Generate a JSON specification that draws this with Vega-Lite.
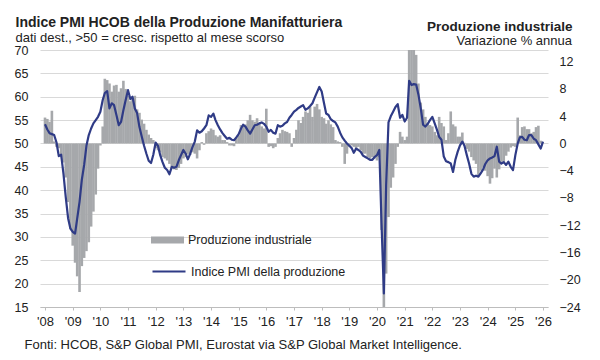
{
  "$schema": "https://vega.github.io/schema/vega-lite/v6.json",
  "width": 508,
  "height": 257,
  "autosize": {"type": "none"},
  "padding": {"left": 40, "top": 50, "right": 52, "bottom": 53},
  "background": "white",
  "config": {
    "font": "Liberation Sans",
    "view": {"stroke": null}
  },
  "title": {
    "text": "Indice PMI HCOB della Produzione Manifatturiera",
    "subtitle": "dati dest., >50 = cresc. rispetto al mese scorso",
    "anchor": "start",
    "frame": "group",
    "dx": -24.5,
    "offset": -26,
    "font": "Liberation Sans",
    "fontSize": 14,
    "fontWeight": "bold",
    "color": "#222222",
    "subtitleFont": "Liberation Sans",
    "subtitleFontSize": 13,
    "subtitleColor": "#222222",
    "subtitlePadding": 2
  },
  "datasets": {
    "pmi": [
      {"d":"2008-01-01","v":54.1},{"d":"2008-02-01","v":53.0},{"d":"2008-03-01","v":52.2},{"d":"2008-04-01","v":52.0},{"d":"2008-05-01","v":51.8},{"d":"2008-06-01","v":50.2},{"d":"2008-07-01","v":47.3},{"d":"2008-08-01","v":47.6},{"d":"2008-09-01","v":43.5},{"d":"2008-10-01","v":38.5},{"d":"2008-11-01","v":34.0},{"d":"2008-12-01","v":31.8},
      {"d":"2009-01-01","v":31.1},{"d":"2009-02-01","v":30.7},{"d":"2009-03-01","v":33.9},{"d":"2009-04-01","v":37.5},{"d":"2009-05-01","v":42.2},{"d":"2009-06-01","v":45.4},{"d":"2009-07-01","v":49.5},{"d":"2009-08-01","v":51.8},{"d":"2009-09-01","v":53.2},{"d":"2009-10-01","v":54.3},{"d":"2009-11-01","v":55.0},{"d":"2009-12-01","v":55.7},
      {"d":"2010-01-01","v":56.8},{"d":"2010-02-01","v":59.3},{"d":"2010-03-01","v":60.8},{"d":"2010-04-01","v":61.2},{"d":"2010-05-01","v":57.5},{"d":"2010-06-01","v":58.6},{"d":"2010-07-01","v":58.2},{"d":"2010-08-01","v":56.1},{"d":"2010-09-01","v":53.9},{"d":"2010-10-01","v":54.6},{"d":"2010-11-01","v":57.1},{"d":"2010-12-01","v":59.3},
      {"d":"2011-01-01","v":61.4},{"d":"2011-02-01","v":59.5},{"d":"2011-03-01","v":60.0},{"d":"2011-04-01","v":57.5},{"d":"2011-05-01","v":56.5},{"d":"2011-06-01","v":53.5},{"d":"2011-07-01","v":51.5},{"d":"2011-08-01","v":49.5},{"d":"2011-09-01","v":47.8},{"d":"2011-10-01","v":46.3},{"d":"2011-11-01","v":45.8},{"d":"2011-12-01","v":47.6},
      {"d":"2012-01-01","v":50.2},{"d":"2012-02-01","v":49.5},{"d":"2012-03-01","v":47.5},{"d":"2012-04-01","v":46.0},{"d":"2012-05-01","v":44.8},{"d":"2012-06-01","v":44.3},{"d":"2012-07-01","v":43.4},{"d":"2012-08-01","v":45.0},{"d":"2012-09-01","v":44.8},{"d":"2012-10-01","v":45.0},{"d":"2012-11-01","v":46.4},{"d":"2012-12-01","v":47.5},
      {"d":"2013-01-01","v":48.6},{"d":"2013-02-01","v":47.8},{"d":"2013-03-01","v":46.6},{"d":"2013-04-01","v":47.8},{"d":"2013-05-01","v":49.2},{"d":"2013-06-01","v":50.4},{"d":"2013-07-01","v":52.8},{"d":"2013-08-01","v":52.3},{"d":"2013-09-01","v":52.6},{"d":"2013-10-01","v":53.2},{"d":"2013-11-01","v":53.9},{"d":"2013-12-01","v":56.0},
      {"d":"2014-01-01","v":55.7},{"d":"2014-02-01","v":56.4},{"d":"2014-03-01","v":55.0},{"d":"2014-04-01","v":53.9},{"d":"2014-05-01","v":53.0},{"d":"2014-06-01","v":52.2},{"d":"2014-07-01","v":51.6},{"d":"2014-08-01","v":51.0},{"d":"2014-09-01","v":51.2},{"d":"2014-10-01","v":50.8},{"d":"2014-11-01","v":50.7},{"d":"2014-12-01","v":51.3},
      {"d":"2015-01-01","v":52.0},{"d":"2015-02-01","v":53.2},{"d":"2015-03-01","v":54.0},{"d":"2015-04-01","v":53.6},{"d":"2015-05-01","v":52.8},{"d":"2015-06-01","v":52.1},{"d":"2015-07-01","v":53.0},{"d":"2015-08-01","v":53.9},{"d":"2015-09-01","v":54.0},{"d":"2015-10-01","v":54.3},{"d":"2015-11-01","v":54.5},{"d":"2015-12-01","v":54.2},
      {"d":"2016-01-01","v":53.6},{"d":"2016-02-01","v":52.5},{"d":"2016-03-01","v":52.9},{"d":"2016-04-01","v":52.3},{"d":"2016-05-01","v":52.1},{"d":"2016-06-01","v":53.9},{"d":"2016-07-01","v":53.6},{"d":"2016-08-01","v":53.8},{"d":"2016-09-01","v":54.3},{"d":"2016-10-01","v":54.6},{"d":"2016-11-01","v":55.5},{"d":"2016-12-01","v":56.1},
      {"d":"2017-01-01","v":56.8},{"d":"2017-02-01","v":57.2},{"d":"2017-03-01","v":57.6},{"d":"2017-04-01","v":57.9},{"d":"2017-05-01","v":58.2},{"d":"2017-06-01","v":57.2},{"d":"2017-07-01","v":57.5},{"d":"2017-08-01","v":58.0},{"d":"2017-09-01","v":58.6},{"d":"2017-10-01","v":59.8},{"d":"2017-11-01","v":61.0},{"d":"2017-12-01","v":62.1},
      {"d":"2018-01-01","v":61.1},{"d":"2018-02-01","v":58.6},{"d":"2018-03-01","v":56.4},{"d":"2018-04-01","v":56.1},{"d":"2018-05-01","v":55.2},{"d":"2018-06-01","v":54.8},{"d":"2018-07-01","v":54.5},{"d":"2018-08-01","v":53.6},{"d":"2018-09-01","v":52.3},{"d":"2018-10-01","v":51.3},{"d":"2018-11-01","v":50.6},{"d":"2018-12-01","v":50.0},
      {"d":"2019-01-01","v":49.5},{"d":"2019-02-01","v":49.0},{"d":"2019-03-01","v":48.0},{"d":"2019-04-01","v":48.9},{"d":"2019-05-01","v":48.6},{"d":"2019-06-01","v":48.2},{"d":"2019-07-01","v":47.4},{"d":"2019-08-01","v":47.1},{"d":"2019-09-01","v":46.8},{"d":"2019-10-01","v":46.5},{"d":"2019-11-01","v":46.5},{"d":"2019-12-01","v":47.1},
      {"d":"2020-01-01","v":47.5},{"d":"2020-02-01","v":48.6},{"d":"2020-03-01","v":33.0},{"d":"2020-04-01","v":17.9},{"d":"2020-05-01","v":41.0},{"d":"2020-06-01","v":54.5},{"d":"2020-07-01","v":55.8},{"d":"2020-08-01","v":56.8},{"d":"2020-09-01","v":57.8},{"d":"2020-10-01","v":58.4},{"d":"2020-11-01","v":55.5},{"d":"2020-12-01","v":56.1},
      {"d":"2021-01-01","v":54.7},{"d":"2021-02-01","v":55.5},{"d":"2021-03-01","v":63.4},{"d":"2021-04-01","v":62.5},{"d":"2021-05-01","v":62.7},{"d":"2021-06-01","v":62.6},{"d":"2021-07-01","v":60.5},{"d":"2021-08-01","v":57.5},{"d":"2021-09-01","v":54.0},{"d":"2021-10-01","v":53.6},{"d":"2021-11-01","v":54.2},{"d":"2021-12-01","v":55.0},
      {"d":"2022-01-01","v":55.7},{"d":"2022-02-01","v":54.3},{"d":"2022-03-01","v":53.0},{"d":"2022-04-01","v":51.4},{"d":"2022-05-01","v":50.8},{"d":"2022-06-01","v":47.2},{"d":"2022-07-01","v":46.2},{"d":"2022-08-01","v":46.0},{"d":"2022-09-01","v":45.7},{"d":"2022-10-01","v":43.9},{"d":"2022-11-01","v":46.5},{"d":"2022-12-01","v":48.2},
      {"d":"2023-01-01","v":49.6},{"d":"2023-02-01","v":50.4},{"d":"2023-03-01","v":49.5},{"d":"2023-04-01","v":47.5},{"d":"2023-05-01","v":45.7},{"d":"2023-06-01","v":43.5},{"d":"2023-07-01","v":42.9},{"d":"2023-08-01","v":43.1},{"d":"2023-09-01","v":42.9},{"d":"2023-10-01","v":43.6},{"d":"2023-11-01","v":44.4},{"d":"2023-12-01","v":45.6},
      {"d":"2024-01-01","v":46.4},{"d":"2024-02-01","v":46.8},{"d":"2024-03-01","v":47.0},{"d":"2024-04-01","v":47.3},{"d":"2024-05-01","v":49.3},{"d":"2024-06-01","v":46.1},{"d":"2024-07-01","v":45.7},{"d":"2024-08-01","v":46.0},{"d":"2024-09-01","v":45.4},{"d":"2024-10-01","v":46.1},{"d":"2024-11-01","v":45.0},{"d":"2024-12-01","v":44.3},
      {"d":"2025-01-01","v":47.5},{"d":"2025-02-01","v":50.0},{"d":"2025-03-01","v":51.3},{"d":"2025-04-01","v":51.4},{"d":"2025-05-01","v":50.8},{"d":"2025-06-01","v":50.7},{"d":"2025-07-01","v":51.8},{"d":"2025-08-01","v":51.8},{"d":"2025-09-01","v":51.0},{"d":"2025-10-01","v":50.7},{"d":"2025-11-01","v":49.8},{"d":"2025-12-01","v":48.9},
      {"d":"2026-01-01","v":50.4}
    ],
    "ip": [
      {"d":"2008-01-01","v":3.8},{"d":"2008-02-01","v":3.6},{"d":"2008-03-01","v":3.2},{"d":"2008-04-01","v":4.8},{"d":"2008-05-01","v":0.3},{"d":"2008-06-01","v":-0.5},{"d":"2008-07-01","v":-0.7},{"d":"2008-08-01","v":-2.0},{"d":"2008-09-01","v":-2.8},{"d":"2008-10-01","v":-5.0},{"d":"2008-11-01","v":-8.6},{"d":"2008-12-01","v":-12.5},
      {"d":"2009-01-01","v":-15.0},{"d":"2009-02-01","v":-17.5},{"d":"2009-03-01","v":-19.5},{"d":"2009-04-01","v":-21.8},{"d":"2009-05-01","v":-18.0},{"d":"2009-06-01","v":-16.8},{"d":"2009-07-01","v":-15.8},{"d":"2009-08-01","v":-14.5},{"d":"2009-09-01","v":-12.2},{"d":"2009-10-01","v":-10.0},{"d":"2009-11-01","v":-7.5},{"d":"2009-12-01","v":-3.7},
      {"d":"2010-01-01","v":-0.3},{"d":"2010-02-01","v":2.5},{"d":"2010-03-01","v":9.5},{"d":"2010-04-01","v":9.3},{"d":"2010-05-01","v":8.8},{"d":"2010-06-01","v":7.6},{"d":"2010-07-01","v":8.5},{"d":"2010-08-01","v":8.6},{"d":"2010-09-01","v":7.6},{"d":"2010-10-01","v":8.1},{"d":"2010-11-01","v":9.2},{"d":"2010-12-01","v":8.0},
      {"d":"2011-01-01","v":7.0},{"d":"2011-02-01","v":6.2},{"d":"2011-03-01","v":6.6},{"d":"2011-04-01","v":7.0},{"d":"2011-05-01","v":5.0},{"d":"2011-06-01","v":4.5},{"d":"2011-07-01","v":3.5},{"d":"2011-08-01","v":2.9},{"d":"2011-09-01","v":2.0},{"d":"2011-10-01","v":1.3},{"d":"2011-11-01","v":0.8},{"d":"2011-12-01","v":0.5},
      {"d":"2012-01-01","v":-0.7},{"d":"2012-02-01","v":-1.0},{"d":"2012-03-01","v":-1.3},{"d":"2012-04-01","v":-2.0},{"d":"2012-05-01","v":-2.2},{"d":"2012-06-01","v":-2.5},{"d":"2012-07-01","v":-3.0},{"d":"2012-08-01","v":-3.7},{"d":"2012-09-01","v":-3.8},{"d":"2012-10-01","v":-3.9},{"d":"2012-11-01","v":-3.6},{"d":"2012-12-01","v":-3.0},
      {"d":"2013-01-01","v":-2.2},{"d":"2013-02-01","v":-2.0},{"d":"2013-03-01","v":-1.6},{"d":"2013-04-01","v":-1.7},{"d":"2013-05-01","v":-1.3},{"d":"2013-06-01","v":-1.5},{"d":"2013-07-01","v":-2.2},{"d":"2013-08-01","v":-1.0},{"d":"2013-09-01","v":0.2},{"d":"2013-10-01","v":-0.2},{"d":"2013-11-01","v":1.5},{"d":"2013-12-01","v":1.8},
      {"d":"2014-01-01","v":2.2},{"d":"2014-02-01","v":2.0},{"d":"2014-03-01","v":1.2},{"d":"2014-04-01","v":1.0},{"d":"2014-05-01","v":1.2},{"d":"2014-06-01","v":0.5},{"d":"2014-07-01","v":0.5},{"d":"2014-08-01","v":0.2},{"d":"2014-09-01","v":-0.3},{"d":"2014-10-01","v":-0.3},{"d":"2014-11-01","v":-0.4},{"d":"2014-12-01","v":0.8},
      {"d":"2015-01-01","v":1.2},{"d":"2015-02-01","v":2.7},{"d":"2015-03-01","v":2.5},{"d":"2015-04-01","v":2.8},{"d":"2015-05-01","v":3.4},{"d":"2015-06-01","v":4.2},{"d":"2015-07-01","v":3.4},{"d":"2015-08-01","v":3.2},{"d":"2015-09-01","v":3.7},{"d":"2015-10-01","v":2.9},{"d":"2015-11-01","v":2.5},{"d":"2015-12-01","v":2.2},
      {"d":"2016-01-01","v":5.1},{"d":"2016-02-01","v":-0.5},{"d":"2016-03-01","v":-0.4},{"d":"2016-04-01","v":-0.7},{"d":"2016-05-01","v":-0.5},{"d":"2016-06-01","v":0.8},{"d":"2016-07-01","v":1.5},{"d":"2016-08-01","v":2.0},{"d":"2016-09-01","v":1.8},{"d":"2016-10-01","v":1.7},{"d":"2016-11-01","v":1.5},{"d":"2016-12-01","v":-0.5},
      {"d":"2017-01-01","v":0.8},{"d":"2017-02-01","v":2.0},{"d":"2017-03-01","v":3.4},{"d":"2017-04-01","v":3.0},{"d":"2017-05-01","v":3.9},{"d":"2017-06-01","v":4.7},{"d":"2017-07-01","v":4.5},{"d":"2017-08-01","v":5.4},{"d":"2017-09-01","v":3.9},{"d":"2017-10-01","v":5.4},{"d":"2017-11-01","v":5.8},{"d":"2017-12-01","v":5.0},
      {"d":"2018-01-01","v":3.9},{"d":"2018-02-01","v":3.7},{"d":"2018-03-01","v":2.9},{"d":"2018-04-01","v":3.4},{"d":"2018-05-01","v":2.8},{"d":"2018-06-01","v":2.4},{"d":"2018-07-01","v":0.5},{"d":"2018-08-01","v":0.3},{"d":"2018-09-01","v":0.2},{"d":"2018-10-01","v":-0.5},{"d":"2018-11-01","v":-3.0},{"d":"2018-12-01","v":-1.5},
      {"d":"2019-01-01","v":-0.5},{"d":"2019-02-01","v":-0.3},{"d":"2019-03-01","v":-0.5},{"d":"2019-04-01","v":-0.8},{"d":"2019-05-01","v":-0.5},{"d":"2019-06-01","v":-1.0},{"d":"2019-07-01","v":-1.5},{"d":"2019-08-01","v":-1.5},{"d":"2019-09-01","v":-2.0},{"d":"2019-10-01","v":-2.2},{"d":"2019-11-01","v":-2.0},{"d":"2019-12-01","v":-2.2},
      {"d":"2020-01-01","v":-2.5},{"d":"2020-02-01","v":-2.0},{"d":"2020-03-01","v":-12.7},{"d":"2020-04-01","v":-40.0},{"d":"2020-05-01","v":-19.1},{"d":"2020-06-01","v":-10.8},{"d":"2020-07-01","v":-6.5},{"d":"2020-08-01","v":-5.0},{"d":"2020-09-01","v":-3.0},{"d":"2020-10-01","v":-0.5},{"d":"2020-11-01","v":1.7},{"d":"2020-12-01","v":1.0},
      {"d":"2021-01-01","v":0.5},{"d":"2021-02-01","v":1.0},{"d":"2021-03-01","v":30.0},{"d":"2021-04-01","v":60.0},{"d":"2021-05-01","v":20.0},{"d":"2021-06-01","v":13.0},{"d":"2021-07-01","v":8.8},{"d":"2021-08-01","v":6.0},{"d":"2021-09-01","v":5.0},{"d":"2021-10-01","v":3.9},{"d":"2021-11-01","v":2.9},{"d":"2021-12-01","v":2.7},
      {"d":"2022-01-01","v":2.5},{"d":"2022-02-01","v":1.7},{"d":"2022-03-01","v":1.2},{"d":"2022-04-01","v":3.9},{"d":"2022-05-01","v":3.0},{"d":"2022-06-01","v":2.5},{"d":"2022-07-01","v":0.5},{"d":"2022-08-01","v":1.5},{"d":"2022-09-01","v":4.7},{"d":"2022-10-01","v":2.8},{"d":"2022-11-01","v":2.5},{"d":"2022-12-01","v":1.0},
      {"d":"2023-01-01","v":1.0},{"d":"2023-02-01","v":1.6},{"d":"2023-03-01","v":0.1},{"d":"2023-04-01","v":-0.8},{"d":"2023-05-01","v":-1.2},{"d":"2023-06-01","v":-2.0},{"d":"2023-07-01","v":-2.5},{"d":"2023-08-01","v":-3.0},{"d":"2023-09-01","v":-4.7},{"d":"2023-10-01","v":-4.0},{"d":"2023-11-01","v":-3.5},{"d":"2023-12-01","v":-4.0},
      {"d":"2024-01-01","v":-4.8},{"d":"2024-02-01","v":-5.9},{"d":"2024-03-01","v":-5.1},{"d":"2024-04-01","v":-3.7},{"d":"2024-05-01","v":-5.0},{"d":"2024-06-01","v":-3.8},{"d":"2024-07-01","v":-2.7},{"d":"2024-08-01","v":-2.9},{"d":"2024-09-01","v":-1.8},{"d":"2024-10-01","v":-1.2},{"d":"2024-11-01","v":-0.6},{"d":"2024-12-01","v":-0.4},
      {"d":"2025-01-01","v":-0.5},{"d":"2025-02-01","v":3.8},{"d":"2025-03-01","v":1.2},{"d":"2025-04-01","v":2.4},{"d":"2025-05-01","v":2.5},{"d":"2025-06-01","v":2.1},{"d":"2025-07-01","v":2.1},{"d":"2025-08-01","v":1.5},{"d":"2025-09-01","v":1.7},{"d":"2025-10-01","v":2.4},{"d":"2025-11-01","v":2.6},{"d":"2025-12-01","v":0.4}
    ]
  },
  "encoding": {
    "x": {
      "field": "d", "type": "temporal",
      "scale": {"type": "utc", "domain": [{"year": 2008, "month": 1, "date": 1, "utc": true}, {"year": 2026, "month": 1, "date": 1, "utc": true}]},
      "axis": {
        "orient": "bottom",
        "labelExpr": "\"'\" + utcFormat(datum.value, '%y')",
        "values": [
          {"year": 2008, "month": 1, "date": 1, "utc": true},{"year": 2009, "month": 1, "date": 1, "utc": true},{"year": 2010, "month": 1, "date": 1, "utc": true},{"year": 2011, "month": 1, "date": 1, "utc": true},{"year": 2012, "month": 1, "date": 1, "utc": true},{"year": 2013, "month": 1, "date": 1, "utc": true},{"year": 2014, "month": 1, "date": 1, "utc": true},{"year": 2015, "month": 1, "date": 1, "utc": true},{"year": 2016, "month": 1, "date": 1, "utc": true},{"year": 2017, "month": 1, "date": 1, "utc": true},{"year": 2018, "month": 1, "date": 1, "utc": true},{"year": 2019, "month": 1, "date": 1, "utc": true},{"year": 2020, "month": 1, "date": 1, "utc": true},{"year": 2021, "month": 1, "date": 1, "utc": true},{"year": 2022, "month": 1, "date": 1, "utc": true},{"year": 2023, "month": 1, "date": 1, "utc": true},{"year": 2024, "month": 1, "date": 1, "utc": true},{"year": 2025, "month": 1, "date": 1, "utc": true},{"year": 2026, "month": 1, "date": 1, "utc": true}
        ],
        "grid": false,
        "domain": true,
        "domainColor": "#bdbdbd",
        "tickColor": "#bdbdbd",
        "tickSize": 3,
        "labelFlush": false,
        "labelOverlap": false,
        "labelFont": "Liberation Sans",
        "labelFontSize": 13,
        "labelColor": "#222222",
        "labelPadding": 5,
        "title": "Fonti: HCOB, S&P Global PMI, Eurostat via S&P Global Market Intelligence.",
        "titleFont": "Liberation Sans",
        "titleFontSize": 13,
        "titleFontWeight": "normal",
        "titleColor": "#222222",
        "titleAnchor": "start",
        "titleAlign": "left",
        "titleBaseline": "alphabetic",
        "titleX": -16,
        "titleY": 41
      }
    }
  },
  "layer": [
    {
      "data": {"name": "ip"},
      "mark": {"type": "bar", "width": 2.6, "clip": true},
      "encoding": {
        "y": {
          "field": "v", "type": "quantitative",
          "scale": {"domain": [-24, 13.714], "nice": false, "zero": false},
          "axis": {
            "orient": "right",
            "values": [-24, -20, -16, -12, -8, -4, 0, 4, 8, 12],
            "grid": false,
            "domain": false,
            "ticks": false,
            "labelPadding": 11,
            "labelFont": "Liberation Sans",
            "labelFontSize": 12.5,
            "labelColor": "#222222",
            "title": "Produzione industriale",
            "titleFont": "Liberation Sans",
            "titleFontSize": 13.5,
            "titleFontWeight": "bold",
            "titleColor": "#222222",
            "titleAngle": 0,
            "titleAlign": "right",
            "titleBaseline": "alphabetic",
            "titleX": 24,
            "titleY": -20
          }
        },
        "y2": {"datum": 0},
        "fill": {
          "datum": "Produzione industriale", "type": "nominal",
          "scale": {"range": ["#a6a8ab"]},
          "legend": {
            "orient": "none", "legendX": 111, "legendY": 173.5,
            "title": null, "padding": 0,
            "symbolType": "M-1,-0.21H1V0.21H-1Z", "symbolSize": 1089, "symbolStrokeWidth": 0,
            "labelFont": "Liberation Sans", "labelFontSize": 12.5, "labelColor": "#222222", "labelOffset": 4
          }
        }
      }
    },
    {
      "data": {"name": "pmi"},
      "mark": {"type": "line", "strokeWidth": 2.2, "clip": true, "strokeJoin": "round"},
      "encoding": {
        "y": {
          "field": "v", "type": "quantitative",
          "scale": {"domain": [15, 70], "nice": false, "zero": false},
          "axis": {
            "orient": "left",
            "values": [15, 20, 25, 30, 35, 40, 45, 50, 55, 60, 65, 70],
            "grid": true,
            "gridColor": "#d9d9d9",
            "gridWidth": 1,
            "domain": false,
            "ticks": false,
            "labelPadding": 12,
            "labelFont": "Liberation Sans",
            "labelFontSize": 12.5,
            "labelColor": "#222222",
            "title": "Variazione % annua",
            "titleFont": "Liberation Sans",
            "titleFontSize": 13,
            "titleFontWeight": "normal",
            "titleColor": "#222222",
            "titleAngle": 0,
            "titleAlign": "right",
            "titleBaseline": "alphabetic",
            "titleX": 531.5,
            "titleY": -6
          }
        },
        "stroke": {
          "datum": "Indice PMI della produzione", "type": "nominal",
          "scale": {"range": ["#2f3b86"]},
          "legend": {
            "orient": "none", "legendX": 111, "legendY": 203.5,
            "title": null, "padding": 0,
            "symbolType": "stroke", "symbolSize": 1089, "symbolStrokeWidth": 2.2,
            "labelFont": "Liberation Sans", "labelFontSize": 12.5, "labelColor": "#222222", "labelOffset": 4
          }
        }
      }
    }
  ],
  "resolve": {"scale": {"y": "independent"}, "axis": {"y": "independent"}}
}
